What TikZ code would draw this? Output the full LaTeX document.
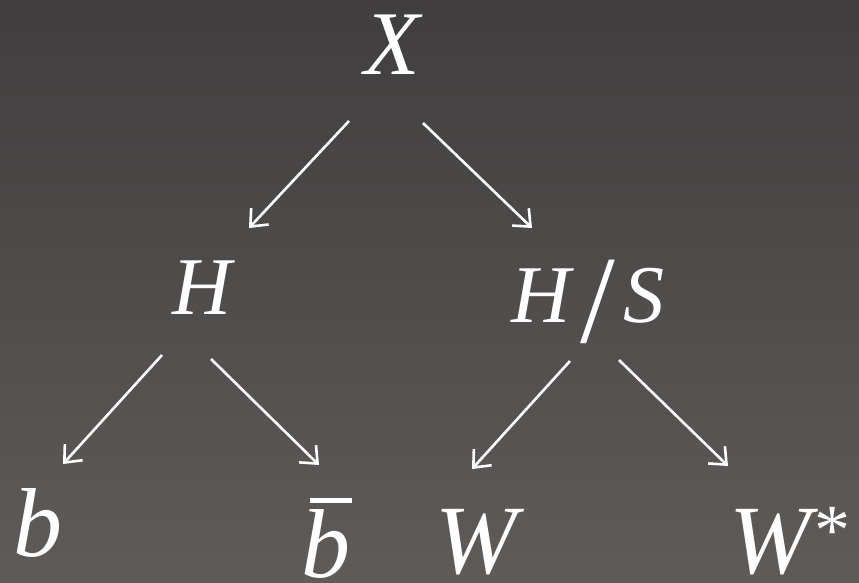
\documentclass[tikz,border=0pt]{standalone}
\usepackage{fontspec}
\setmainfont{Liberation Serif}
\usepackage{tikz}
\usetikzlibrary{arrows.meta}
\definecolor{bgtop}{HTML}{403E3E}
\definecolor{bgbottom}{HTML}{5E5B59}

\newcommand{\bigslash}{\kern10pt\raisebox{-20pt}{\fontsize{125}{125}\selectfont\upshape /}\kern9pt}
\newcommand{\supstar}{\kern3pt\raisebox{19pt}{\fontsize{72}{72}\selectfont\upshape *}}

\begin{document}
\begin{tikzpicture}[
  x=1pt, y=-1pt,
  sym/.style={text=white, inner sep=0pt, anchor=base},
  topsym/.style={sym, font=\fontsize{91}{91}\selectfont\itshape},
  midsym/.style={sym, font=\fontsize{82}{82}\selectfont\itshape},
  lowsym/.style={sym, font=\fontsize{98}{98}\selectfont\itshape},
  arrow/.style={-{Straight Barb[length=14pt,width=24pt]}, line width=2.6pt, white},
]
  \shade[top color=bgtop, bottom color=bgbottom] (0,0) rectangle (859,582);
  \useasboundingbox (0,0) rectangle (859,582);
  \node[topsym] (X) at (392,74) {X};
  \node[midsym] (H) at (202,314) {H};
  \node[midsym] (HS) at (588,322) {H\bigslash S};
  \node[lowsym] (b) at (38,556) {b};
  \node[lowsym] (bbar) at (326,577) {\makebox[0pt][l]{\kern8pt\rule[74pt]{42pt}{5pt}}b};
  \node[lowsym] (W) at (476,573) {W};
  \node[lowsym] (Ws) at (790,573) {W\supstar};
  \draw[arrow] ([shift={(-43,47)}]X.base) -- ([shift={(47,-86)}]H.base);
  \draw[arrow] ([shift={(31,49)}]X.base) -- ([shift={(-56,-94)}]HS.base);
  \draw[arrow] ([shift={(-40,41)}]H.base) -- ([shift={(25,-92)}]b.base);
  \draw[arrow] ([shift={(9,45)}]H.base) -- ([shift={(-7,-112)}]bbar.base);
  \draw[arrow] ([shift={(-18,39)}]HS.base) -- ([shift={(-4,-104)}]W.base);
  \draw[arrow] ([shift={(31,38)}]HS.base) -- ([shift={(-62,-107)}]Ws.base);
\end{tikzpicture}
\end{document}
